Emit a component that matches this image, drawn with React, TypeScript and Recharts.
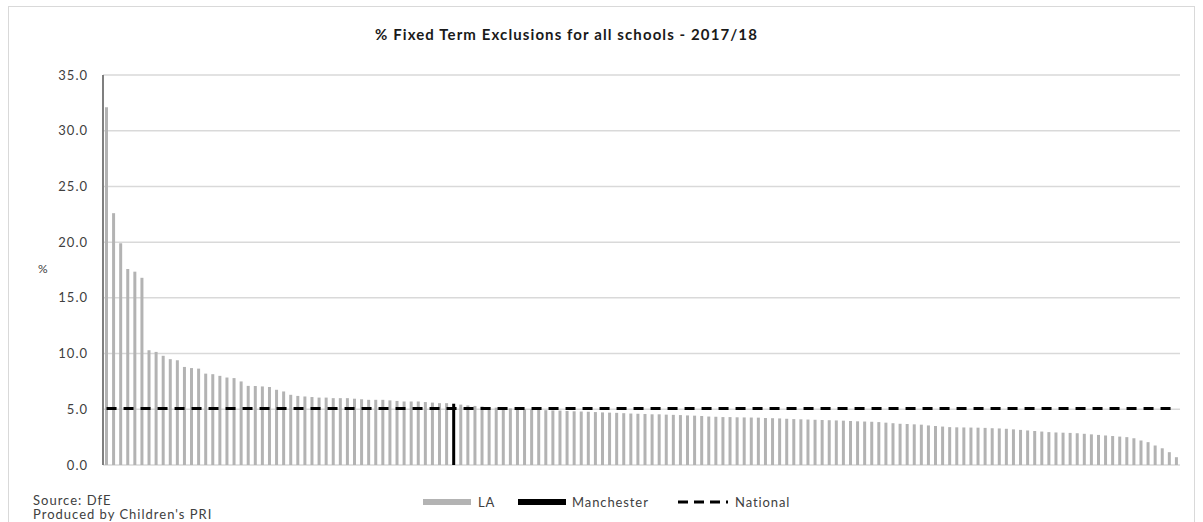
import React from 'react';
import { ComposedChart, Bar, Line, XAxis, YAxis, CartesianGrid, Cell } from 'recharts';

// % fixed term exclusions per local authority, sorted high to low
const LA_RATES = [
  32.1, 22.6, 19.9, 17.6, 17.35, 16.8, 10.3, 10.15, 9.8, 9.5,
  9.4, 8.8, 8.7, 8.65, 8.2, 8.15, 8.0, 7.85, 7.8, 7.5,
  7.1, 7.1, 7.05, 7.0, 6.75, 6.6, 6.3, 6.2, 6.15, 6.1,
  6.05, 6.05, 6.0, 6.0, 6.0, 5.95, 5.9, 5.85, 5.85, 5.85,
  5.8, 5.75, 5.7, 5.7, 5.7, 5.65, 5.6, 5.55, 5.55, 5.5,
  5.42, 5.35, 5.3, 5.25, 5.2, 5.15, 5.1, 5.08, 5.05, 5.0,
  4.98, 4.95, 4.92, 4.9, 4.88, 4.85, 4.82, 4.8, 4.78, 4.75,
  4.72, 4.7, 4.68, 4.65, 4.62, 4.6, 4.58, 4.55, 4.55, 4.52,
  4.5, 4.48, 4.45, 4.43, 4.4, 4.35, 4.33, 4.3, 4.3, 4.28,
  4.27, 4.26, 4.25, 4.22, 4.2, 4.18, 4.15, 4.12, 4.1, 4.08,
  4.06, 4.04, 4.02, 4.0, 3.98, 3.95, 3.92, 3.9, 3.88, 3.85,
  3.8, 3.75, 3.7, 3.68, 3.65, 3.62, 3.55, 3.5, 3.45, 3.4,
  3.38, 3.37, 3.36, 3.35, 3.33, 3.3, 3.28, 3.25, 3.2, 3.15,
  3.1, 3.05, 3.0, 2.95, 2.92, 2.9, 2.88, 2.85, 2.8, 2.75,
  2.7, 2.65, 2.6, 2.55, 2.5, 2.4, 2.2, 2.05, 1.75, 1.5,
  1.15, 0.7,
];

const MANCHESTER_RANK = 50;
const NATIONAL_RATE = 5.08;
const Y_TICKS = [0, 5, 10, 15, 20, 25, 30, 35];

const LA_COLOR = '#b3b3b3';
const MANCHESTER_COLOR = '#000000';
const TEXT_COLOR = '#404040';
const FONT = 'Lato, "Open Sans", sans-serif';

const data = LA_RATES.map((rate, i) => ({
  rank: i + 1,
  rate,
  national: NATIONAL_RATE,
}));

const legendText: React.CSSProperties = {
  position: 'absolute',
  top: 494,
  fontFamily: FONT,
  fontSize: 13,
  lineHeight: '16px',
  letterSpacing: 0.9,
  color: TEXT_COLOR,
};

const swatch = (left: number, color: string): React.CSSProperties => ({
  position: 'absolute',
  top: 499,
  left,
  width: 48,
  height: 6,
  background: color,
});

const LegendRow = () => (
  <>
    <div style={swatch(423, LA_COLOR)} />
    <div style={{ ...legendText, left: 478 }}>LA</div>
    <div style={swatch(518, MANCHESTER_COLOR)} />
    <div style={{ ...legendText, left: 572 }}>Manchester</div>
    <svg width={50} height={6} style={{ position: 'absolute', top: 499, left: 678 }}>
      <line x1={0} y1={3} x2={50} y2={3} stroke="#000" strokeWidth={3} strokeDasharray="10 6" />
    </svg>
    <div style={{ ...legendText, left: 735 }}>National</div>
  </>
);

export default function App() {
  return (
    <div style={{ position: 'absolute', left: 0, top: 0, width: 1203, height: 522, background: '#fff', overflow: 'hidden' }}>
      <div
        style={{
          position: 'absolute',
          left: 8,
          top: 6,
          width: 1187,
          height: 540,
          border: '1px solid #d9d9d9',
          boxSizing: 'border-box',
        }}
      />
      <div
        style={{
          position: 'absolute',
          top: 25,
          left: 0,
          width: 1133,
          textAlign: 'center',
          fontFamily: FONT,
          fontWeight: 700,
          fontSize: 15,
          letterSpacing: 1.1,
          color: '#1a1a1a',
        }}
      >
        % Fixed Term Exclusions for all schools - 2017/18
      </div>
      <div style={{ position: 'absolute', left: 38, top: 261, fontFamily: FONT, fontSize: 12, color: TEXT_COLOR }}>%</div>
      <ComposedChart
        width={1203}
        height={522}
        data={data}
        margin={{ top: 75, right: 23, bottom: 57, left: 43 }}
        barCategoryGap={2}
      >
        <CartesianGrid vertical={false} stroke="#d9d9d9" strokeWidth={1.5} />
        <XAxis
          dataKey="rank"
          tick={false}
          tickLine={false}
          axisLine={{ stroke: '#a6a6a6', strokeWidth: 2 }}
          height={0}
        />
        <YAxis
          width={60}
          domain={[0, 35]}
          ticks={Y_TICKS}
          tickFormatter={(v: number) => v.toFixed(1)}
          tickLine={false}
          tickMargin={9}
          axisLine={{ stroke: '#7f7f7f', strokeWidth: 2 }}
          tick={{ fill: TEXT_COLOR, fontSize: 13, fontFamily: FONT, letterSpacing: 1 }}
        />
        <Bar dataKey="rate" barSize={3} fill={LA_COLOR} isAnimationActive={false}>
          {data.map((d) => (
            <Cell key={d.rank} fill={d.rank === MANCHESTER_RANK ? MANCHESTER_COLOR : LA_COLOR} />
          ))}
        </Bar>
        <Line
          dataKey="national"
          stroke="#000"
          strokeWidth={3}
          strokeDasharray="10 7"
          dot={false}
          activeDot={false}
          isAnimationActive={false}
        />
      </ComposedChart>
      <LegendRow />
      <div style={{ position: 'absolute', left: 33, top: 493, fontFamily: FONT, fontSize: 13, color: TEXT_COLOR, lineHeight: '14px', letterSpacing: 1 }}>
        <div>Source: DfE</div>
        <div>Produced by Children's PRI</div>
      </div>
    </div>
  );
}
